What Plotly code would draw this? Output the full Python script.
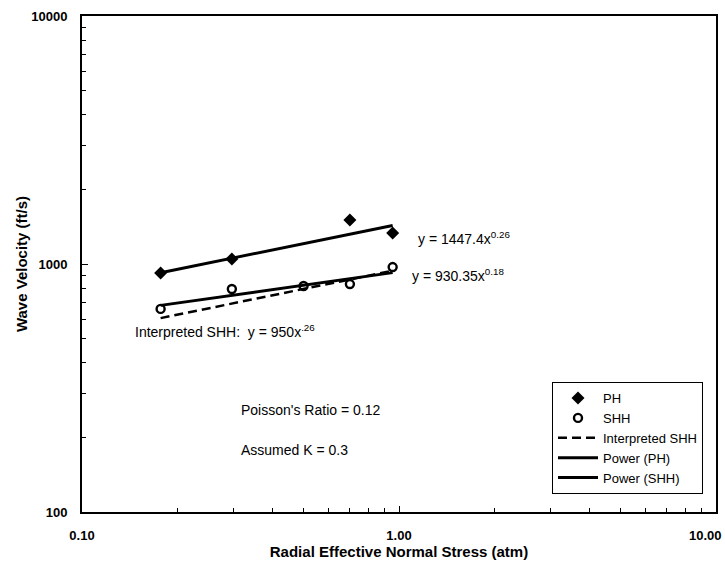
import plotly.graph_objects as go

# Data
ph_x = [0.177, 0.297, 0.70, 0.955]
ph_y = [920, 1047, 1504, 1333]
shh_x = [0.177, 0.297, 0.50, 0.70, 0.955]
shh_y = [659, 793, 815, 830, 972]

# Trend line endpoints (power fits are straight on log-log axes)
fit_x = [0.177, 0.955]
power_ph_y = [922, 1430]
power_shh_y = [681, 923]
interp_shh_y = [605, 939]

x_major = [0.1, 1, 10]
x_major_text = ["0.10", "1.00", "10.00"]
y_major = [100, 1000, 10000]
y_major_text = ["100", "1000", "10000"]

def minor_vals(majors):
    vals = []
    for m in majors[:-1]:
        for k in range(2, 10):
            vals.append(m * k)
    return vals

fig = go.Figure()
fig.add_trace(go.Scatter(x=ph_x, y=ph_y, mode="markers", name="PH",
                         marker=dict(symbol="diamond", size=10, color="black")))
fig.add_trace(go.Scatter(x=shh_x, y=shh_y, mode="markers", name="SHH",
                         marker=dict(symbol="circle-open", size=8, color="black",
                                     line=dict(width=2.4, color="black"))))
fig.add_trace(go.Scatter(x=fit_x, y=interp_shh_y, mode="lines", name="Interpreted SHH",
                         line=dict(color="black", width=2.5, dash="9px,5px")))
fig.add_trace(go.Scatter(x=fit_x, y=power_ph_y, mode="lines", name="Power (PH)",
                         line=dict(color="black", width=3)))
fig.add_trace(go.Scatter(x=fit_x, y=power_shh_y, mode="lines", name="Power (SHH)",
                         line=dict(color="black", width=3)))

font_main = "Liberation Sans, Arial, sans-serif"

def px2paper(px, py):
    return (px - 82) / 634, (512 - py) / 496

annos = [
    (416, 238, "y = 1447.4x<sup>0.26</sup>"),
    (410, 275, "y = 930.35x<sup>0.18</sup>"),
    (133, 331, "Interpreted SHH:  y = 950x<sup>.26</sup>"),
    (239, 410, "Poisson's Ratio = 0.12"),
    (239, 450, "Assumed K = 0.3"),
]
for px, py, txt in annos:
    ax, ay = px2paper(px, py)
    fig.add_annotation(x=ax, y=ay, xref="paper", yref="paper", text=txt,
                       showarrow=False, xanchor="left", yanchor="middle",
                       font=dict(family=font_main, size=14, color="black"))

# last x tick label sits at the right page edge; place it so it stays inside
lx, ly = px2paper(724, 535)
fig.add_annotation(x=lx, y=ly, xref="paper", yref="paper", text="<b>" + x_major_text[2] + "</b>",
                   showarrow=False, xanchor="right", yanchor="middle",
                   font=dict(family=font_main, size=13, color="black"))

axis_common = dict(
    type="log", ticks="inside", ticklen=6, tickwidth=1, tickcolor="black",
    showgrid=False, zeroline=False, automargin=False,
    showline=True, linecolor="black", linewidth=2, mirror=True,
    ticklabeloverflow="allow", tickangle=0,
    tickfont=dict(family=font_main, size=13, color="black", weight="bold"),
)

fig.update_layout(
    width=725, height=567,
    margin=dict(l=82, r=9, t=16, b=55, autoexpand=False),
    paper_bgcolor="white", plot_bgcolor="white",
    font=dict(family=font_main, color="black"),
    showlegend=True,
    legend=dict(x=0.9795, xanchor="right", y=0.262, yanchor="top",
                bordercolor="black", borderwidth=1, bgcolor="white",
                itemwidth=40,
                font=dict(family=font_main, size=13, color="black"),
                tracegroupgap=0),
    xaxis=dict(**axis_common, range=[-1, 1],
               tickvals=x_major[:2], ticktext=x_major_text[:2],
               minor=dict(tickvals=minor_vals(x_major), ticks="inside", ticklen=4,
                          tickcolor="black", showgrid=False),
               ticklabelstandoff=10,
               title=dict(text="<b>Radial Effective Normal Stress (atm)</b>",
                          font=dict(family=font_main, size=15, color="black"),
                          standoff=3)),
    yaxis=dict(**axis_common, range=[2, 4],
               tickvals=y_major, ticktext=y_major_text,
               minor=dict(tickvals=minor_vals(y_major), ticks="inside", ticklen=4,
                          tickcolor="black", showgrid=False),
               ticklabelstandoff=10,
               title=dict(text="<b>Wave Velocity (ft/s)</b>",
                          font=dict(family=font_main, size=15, color="black"),
                          standoff=0)),
)

fig.write_html("out.html", config={"displayModeBar": False},
               post_script="document.body.style.margin='0';")
